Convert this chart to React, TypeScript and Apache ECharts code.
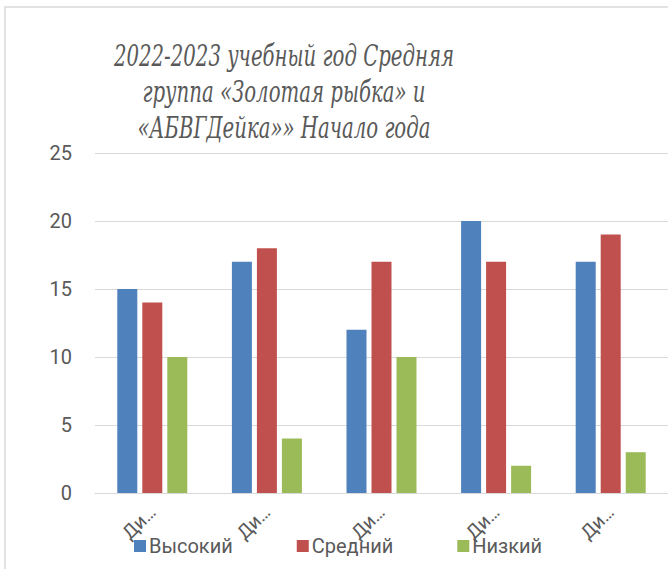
import React, { useEffect, useRef } from "react";
import * as echarts from "echarts";

const categories = ["Ди…", "Ди…", "Ди…", "Ди…", "Ди…"];
const seriesNames = ["Высокий", "Средний", "Низкий"];
const high = [15, 17, 12, 20, 17];
const mid = [14, 18, 17, 17, 19];
const low = [10, 4, 10, 2, 3];
const titleLines = [
  "2022-2023 учебный год Средняя",
  "группа «Золотая рыбка» и",
  "«АБВГДейка»» Начало года",
];

export default function App() {
  const ref = useRef<HTMLDivElement>(null);
  useEffect(() => {
    if (!ref.current) return;
    const chart = echarts.init(ref.current, null, { renderer: "svg" });
    const sans = "Roboto, 'Noto Sans', sans-serif";
    const mk = (name: string, data: number[], color: string) => ({
      name,
      type: "bar",
      data,
      barWidth: 20,
      barGap: "25%",
      itemStyle: { color },
    });
    chart.setOption({
      animation: false,
      backgroundColor: "#ffffff",
      graphic: [
        {
          type: "rect",
          shape: { x: 5, y: 7, width: 700, height: 600 },
          style: { fill: "none", stroke: "#d9d9d9", lineWidth: 1.5 },
          silent: true,
          z: -10,
        },
        {
          type: "text",
          x: 284,
          y: 92,
          scaleX: 0.68,
          style: {
            text: titleLines.join("\n"),
            fill: "#595959",
            fontFamily: "DejaVu Serif",
            fontStyle: "italic",
            fontSize: 29,
            align: "center",
            verticalAlign: "middle",
            lineHeight: 36,
          },
        },
      ],
      legend: {
        data: seriesNames,
        left: 129,
        top: 531,
        itemWidth: 12,
        itemHeight: 12,
        itemGap: 64,
        icon: "rect",
        textStyle: { color: "#595959", fontSize: 20, fontFamily: sans, padding: [0, 0, 0, -2] },
      },
      grid: { left: 95, right: -7, top: 153, bottom: 76, containLabel: false },
      xAxis: {
        type: "category",
        data: categories,
        axisLine: { lineStyle: { color: "#d9d9d9", width: 1 } },
        axisTick: { show: false },
        axisLabel: {
          rotate: 45,
          margin: 16,
          color: "#595959",
          fontSize: 19,
          fontFamily: sans,
          interval: 0,
        },
      },
      yAxis: {
        type: "value",
        min: 0,
        max: 25,
        interval: 5,
        axisLine: { show: false },
        axisTick: { show: false },
        splitLine: { lineStyle: { color: "#d9d9d9", width: 1 } },
        axisLabel: { color: "#595959", fontSize: 20, fontFamily: sans, margin: 23 },
      },
      series: [
        mk(seriesNames[0], high, "#4f81bd"),
        mk(seriesNames[1], mid, "#c0504d"),
        mk(seriesNames[2], low, "#9bbb59"),
      ],
    });
    return () => chart.dispose();
  }, []);
  return (
    <div
      ref={ref}
      style={{ position: "absolute", left: 0, top: 0, width: 668, height: 569 }}
    />
  );
}
